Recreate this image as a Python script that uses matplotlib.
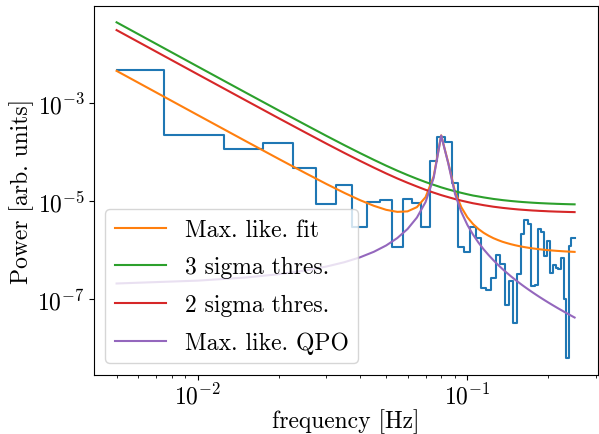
import numpy as np
import matplotlib
matplotlib.use("Agg")
import matplotlib.pyplot as plt
from matplotlib.ticker import NullLocator

plt.rcParams['font.family'] = 'serif'
plt.rcParams['font.serif'] = ['cmr10', 'DejaVu Serif']
plt.rcParams['mathtext.fontset'] = 'cm'
plt.rcParams['axes.formatter.use_mathtext'] = True
plt.rcParams['font.size'] = 17

# frequency grid [Hz]
freq = [0.005 * k for k in range(1, 51)]

# observed power (step curve)
power = [4.7e-3, 2.22e-4, 1.15e-4, 1.53e-4, 4.65e-5, 8.7e-6, 2.15e-5, 2.9e-6, 9.4e-6, 1.05e-5,
         1.13e-6, 1.1e-5, 9.1e-6, 3.0e-6, 6.5e-5, 2.0e-4, 1.58e-4, 2.3e-5, 1.13e-6, 9.0e-7,
         3.0e-6, 1.8e-6, 1.65e-7, 1.55e-7, 2.7e-7, 7.9e-7, 5.3e-7, 7.6e-8, 2.37e-7, 3.2e-8,
         3.2e-7, 2.1e-6, 4.2e-6, 3.4e-6, 1.87e-7, 1.95e-7, 2.7e-6, 2.3e-6, 7.7e-7, 1.55e-6,
         3.4e-7, 4.9e-7, 4.4e-7, 4.1e-7, 6.9e-7, 1.0e-7, 6.2e-9, 1.22e-6, 1.8e-6, 1.8e-6]

# maximum likelihood fit
fit = [4.561e-3, 5.710e-4, 1.700e-4, 7.24e-5, 3.77e-5, 2.24e-5, 1.47e-5, 1.046e-5, 8.02e-6, 6.64e-6,
       6.03e-6, 6.17e-6, 7.53e-6, 1.206e-5, 3.18e-5, 2.20e-4, 6.03e-5, 1.56e-5, 7.50e-6, 4.69e-6,
       3.40e-6, 2.69e-6, 2.25e-6, 1.96e-6, 1.75e-6, 1.60e-6, 1.48e-6, 1.393e-6, 1.32e-6, 1.261e-6,
       1.212e-6, 1.171e-6, 1.137e-6, 1.108e-6, 1.082e-6, 1.060e-6, 1.041e-6, 1.024e-6, 1.009e-6, 9.96e-7,
       9.84e-7, 9.74e-7, 9.64e-7, 9.56e-7, 9.48e-7, 9.41e-7, 9.35e-7, 9.29e-7, 9.24e-7, 9.19e-7]

# 3 sigma threshold
thr3 = [4.47e-2, 5.59e-3, 1.663e-3, 7.07e-4, 3.66e-4, 2.15e-4, 1.385e-4, 9.56e-5, 6.96e-5, 5.29e-5,
        4.18e-5, 3.41e-5, 2.86e-5, 2.45e-5, 2.15e-5, 1.91e-5, 1.73e-5, 1.59e-5, 1.475e-5, 1.38e-5,
        1.30e-5, 1.245e-5, 1.19e-5, 1.147e-5, 1.107e-5, 1.078e-5, 1.049e-5, 1.027e-5, 1.006e-5, 9.89e-6,
        9.73e-6, 9.59e-6, 9.48e-6, 9.37e-6, 9.27e-6, 9.19e-6, 9.11e-6, 9.05e-6, 8.99e-6, 8.93e-6,
        8.88e-6, 8.84e-6, 8.79e-6, 8.76e-6, 8.72e-6, 8.69e-6, 8.66e-6, 8.63e-6, 8.61e-6, 8.59e-6]

# 2 sigma threshold
thr2 = [3.10e-2, 3.88e-3, 1.154e-3, 4.90e-4, 2.54e-4, 1.493e-4, 9.61e-5, 6.63e-5, 4.83e-5, 3.67e-5,
        2.90e-5, 2.37e-5, 1.99e-5, 1.70e-5, 1.49e-5, 1.326e-5, 1.204e-5, 1.102e-5, 1.023e-5, 9.59e-6,
        9.04e-6, 8.64e-6, 8.26e-6, 7.96e-6, 7.68e-6, 7.48e-6, 7.28e-6, 7.13e-6, 6.98e-6, 6.86e-6,
        6.75e-6, 6.66e-6, 6.58e-6, 6.50e-6, 6.43e-6, 6.38e-6, 6.32e-6, 6.28e-6, 6.24e-6, 6.19e-6,
        6.16e-6, 6.13e-6, 6.10e-6, 6.08e-6, 6.05e-6, 6.03e-6, 6.01e-6, 5.99e-6, 5.98e-6, 5.96e-6]

# QPO component
qpo = [2.08e-7, 2.38e-7, 2.75e-7, 3.22e-7, 3.82e-7, 4.61e-7, 5.66e-7, 7.12e-7, 9.23e-7, 1.243e-6,
       1.763e-6, 2.69e-6, 4.61e-6, 9.56e-6, 2.96e-5, 2.18e-4, 5.85e-5, 1.40e-5, 5.99e-6, 3.28e-6,
       2.07e-6, 1.42e-6, 1.034e-6, 7.89e-7, 6.20e-7, 5.00e-7, 4.11e-7, 3.45e-7, 2.93e-7, 2.52e-7,
       2.19e-7, 1.92e-7, 1.70e-7, 1.515e-7, 1.358e-7, 1.224e-7, 1.109e-7, 1.010e-7, 9.23e-8, 8.47e-8,
       7.80e-8, 7.21e-8, 6.68e-8, 6.21e-8, 5.79e-8, 5.40e-8, 5.06e-8, 4.75e-8, 4.46e-8, 4.20e-8]

fig = plt.figure(figsize=(5.99, 4.35), dpi=100)
ax = fig.add_axes([0.1564, 0.1356, 0.8411, 0.8494])

ax.loglog(freq, power, drawstyle='steps-mid', color='C0')
ax.loglog(freq, fit, color='C1', label='Max. like. fit')
ax.loglog(freq, thr3, color='C2', label='3 sigma thres.')
ax.loglog(freq, thr2, color='C3', label='2 sigma thres.')
ax.loglog(freq, qpo, color='C4', label='Max. like. QPO')

ax.set_yticks([1e-7, 1e-5, 1e-3])
ax.yaxis.set_minor_locator(NullLocator())
ax.tick_params(axis='x', which='major', pad=2)
ax.tick_params(axis='y', which='major', pad=3)

ax.set_xlabel('frequency [Hz]', labelpad=0)
ax.set_ylabel('Power [arb. units]', labelpad=2)
ax.legend(loc='lower left', handlelength=2.15, labelspacing=0.65)

fig.savefig('out.png', dpi=100)
